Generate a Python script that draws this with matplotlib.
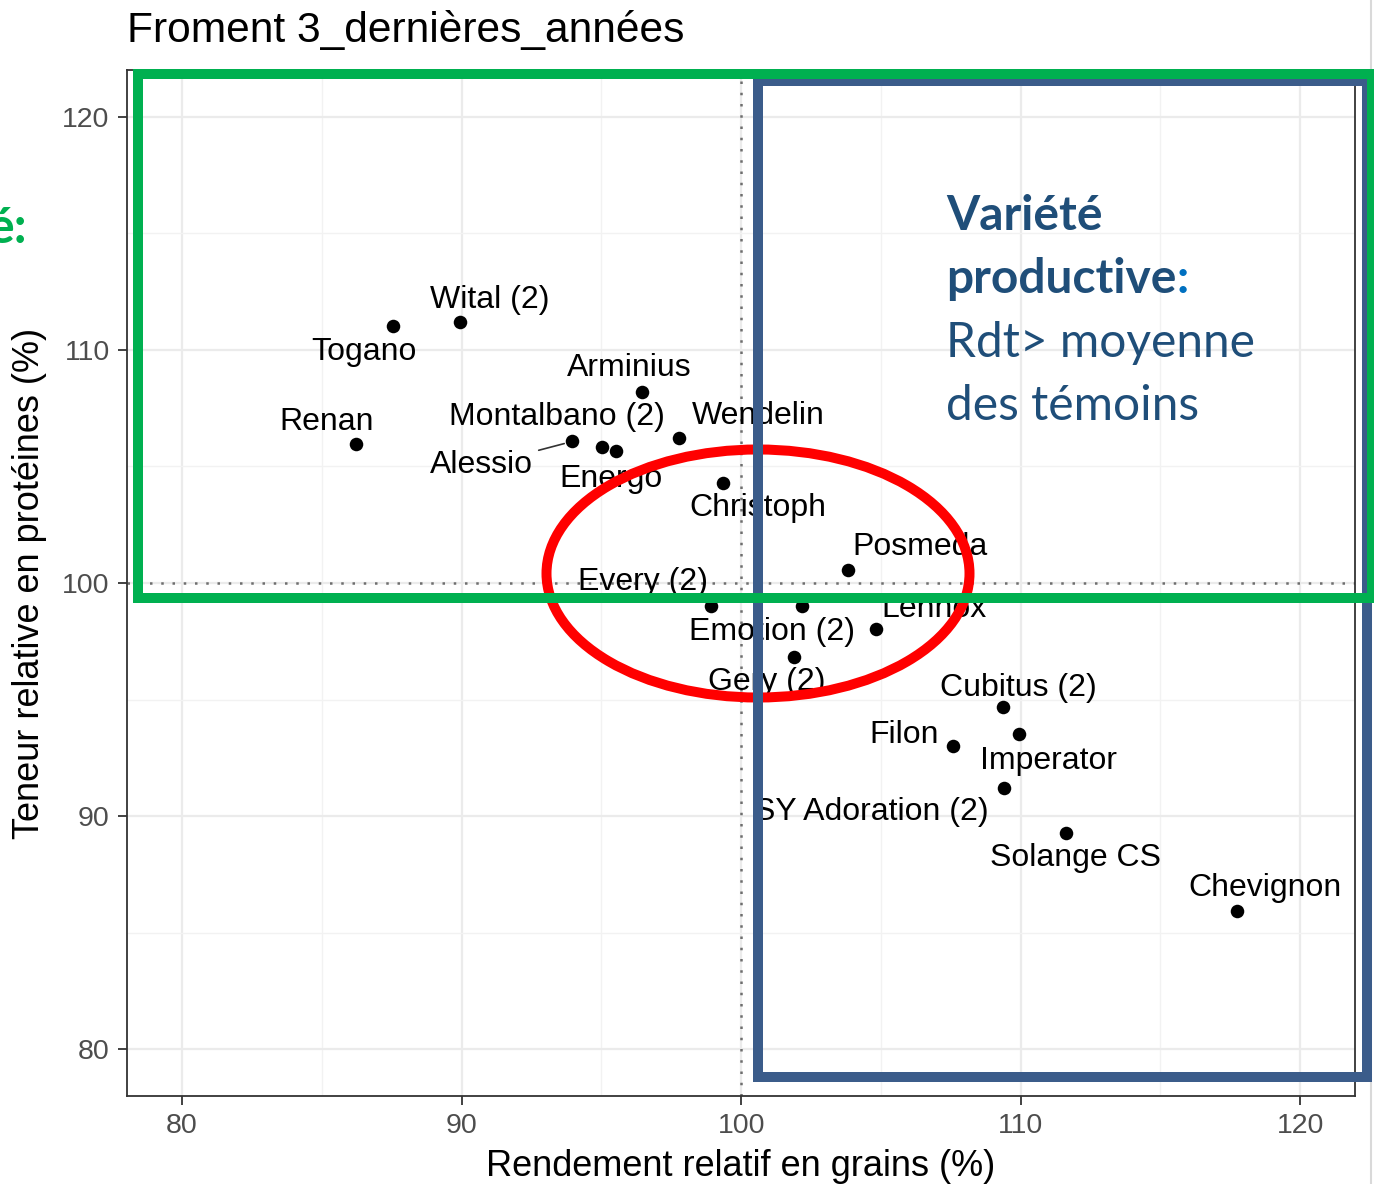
import matplotlib

matplotlib.use("Agg")
import matplotlib.pyplot as plt
from matplotlib.lines import Line2D
from matplotlib.patches import Ellipse, Rectangle

# Varieties, relative grain yield (%) and relative protein content (%)
varieties = [
    "Togano", "Wital (2)", "Renan", "Arminius", "Alessio", "Montalbano (2)",
    "Energo", "Wendelin", "Christoph", "Posmeda", "Every (2)", "Emotion (2)",
    "Lennox", "Gery (2)", "Cubitus (2)", "Imperator", "Filon",
    "SY Adoration (2)", "Solange CS", "Chevignon",
]
rendement = [
    87.54, 89.96, 86.22, 96.46, 93.96, 95.01,
    95.51, 97.77, 99.36, 103.81, 98.93, 102.18,
    104.84, 101.88, 109.36, 109.93, 107.59,
    109.42, 111.62, 117.74,
]
proteines = [
    111.03, 111.21, 105.95, 108.21, 106.07, 105.83,
    105.64, 106.21, 104.29, 100.57, 99.03, 99.03,
    98.03, 96.83, 94.67, 93.51, 93.02,
    91.20, 89.28, 85.93,
]
# repelled label positions (data units)
label_x = [
    86.50, 91.01, 85.18, 96.01, 90.72, 93.40,
    95.33, 100.62, 100.59, 106.41, 96.48, 101.12,
    106.91, 100.91, 109.91, 110.99, 105.84,
    104.66, 111.95, 118.74,
]
label_y = [
    109.90, 112.15, 106.90, 109.20, 105.05, 107.10,
    104.45, 107.15, 103.20, 101.55, 100.05, 97.90,
    98.90, 95.75, 95.50, 92.35, 93.50,
    90.20, 88.20, 86.90,
]
with_segment = ["Alessio"]

x_ticks = [80, 90, 100, 110, 120]
y_ticks = [80, 90, 100, 110, 120]
x_minor = [85, 95, 105, 115]
y_minor = [85, 95, 105, 115]

W, H = 1374, 1184
GREEN = "#00B050"
BLUE_BOX = "#3B5C8A"
BLUE_TXT = "#1F4E79"
RED = "#FF0000"


def fx(px):
    return px / W


def fy(py):
    return 1 - py / H


plt.rcParams["font.family"] = ["Liberation Sans", "DejaVu Sans"]

fig = plt.figure(figsize=(W / 100, H / 100), dpi=100)
ax = fig.add_axes([fx(127), fy(1096), (1355 - 127) / W, (1096 - 70) / H])
ax.set_xlim(78.03, 121.96)
ax.set_ylim(78.0, 122.0)

ax.set_xticks(x_ticks)
ax.set_yticks(y_ticks)
ax.set_xticks(x_minor, minor=True)
ax.set_yticks(y_minor, minor=True)
ax.tick_params(which="major", length=6.5, width=1.3, color="#333333",
               labelsize=20.5, labelcolor="#4D4D4D", pad=6)
ax.tick_params(which="minor", length=0)
ax.grid(True, which="major", color="#EBEBEB", lw=1.6)
ax.grid(True, which="minor", color="#F2F2F2", lw=1.0)
ax.set_axisbelow(True)
for sp in ax.spines.values():
    sp.set_color("#333333")
    sp.set_linewidth(1.3)

ax.axvline(100, color="#6E6E6E", lw=1.8, ls=(0, (1, 3.5)), zorder=1)
ax.axhline(100, color="#6E6E6E", lw=1.8, ls=(0, (1, 3.5)), zorder=1)

ax.scatter(rendement, proteines, s=95, color="black", zorder=3, linewidths=0)

for name, x, y, lx, ly in zip(varieties, rendement, proteines, label_x, label_y):
    arrow = None
    if name in with_segment:
        arrow = dict(arrowstyle="-", color="#333333", lw=1.2, shrinkA=2, shrinkB=6)
    ax.annotate(name, xy=(x, y), xytext=(lx, ly), textcoords="data",
                fontsize=23, color="black", ha="center", va="center",
                arrowprops=arrow, zorder=4)

ax.set_xlabel("Rendement relatif en grains (%)", fontsize=26, labelpad=7)
ax.set_ylabel("Teneur relative en protéines (%)", fontsize=26, labelpad=11)
fig.text(fx(127), fy(42), "Froment 3_dernières_années", fontsize=30.6,
         ha="left", va="baseline")

# slide overlay: boxes, ellipse and notes
fig.add_artist(Line2D([fx(1371), fx(1371)], [0, 1], color="#D9D9D9", lw=1.5,
                      transform=fig.transFigure))
fig.add_artist(Ellipse((fx(758), fy(573.5)), 423 / W, 248 / H, fill=False,
                       ec=RED, lw=7.2, transform=fig.transFigure, zorder=5))
fig.add_artist(Rectangle((fx(758), fy(1077)), (1367 - 758) / W, (1077 - 81) / H,
                         fill=False, ec=BLUE_BOX, lw=7.2, joinstyle="miter",
                         transform=fig.transFigure, zorder=6))
fig.add_artist(Rectangle((fx(138), fy(598)), (1372 - 138) / W, (598 - 73.5) / H,
                         fill=False, ec=GREEN, lw=7.2, joinstyle="miter",
                         transform=fig.transFigure, zorder=7))

note = dict(fontsize=34.5, color=BLUE_TXT, family=["Lato", "DejaVu Sans"],
            ha="left", va="baseline", zorder=8)
fig.text(fx(946), fy(230), "Variété", fontweight="bold", **note)
t2 = fig.text(fx(946), fy(293), "productive", fontweight="bold", **note)
fig.add_artist(plt.Annotation(":", xy=(1, 0), xycoords=t2, fontsize=34.5,
                              color="#0070C0", fontweight="bold",
                              family=["Lato", "DejaVu Sans"], va="bottom",
                              ha="left"))
fig.text(fx(946), fy(357), "Rdt> moyenne", **note)
fig.text(fx(946), fy(420), "des témoins", **note)
fig.text(fx(27), fy(243), "é:", fontsize=36, color=GREEN, fontweight="bold",
         family=["Lato", "DejaVu Sans"], ha="right", va="baseline")

fig.savefig("out.png", dpi=100)
